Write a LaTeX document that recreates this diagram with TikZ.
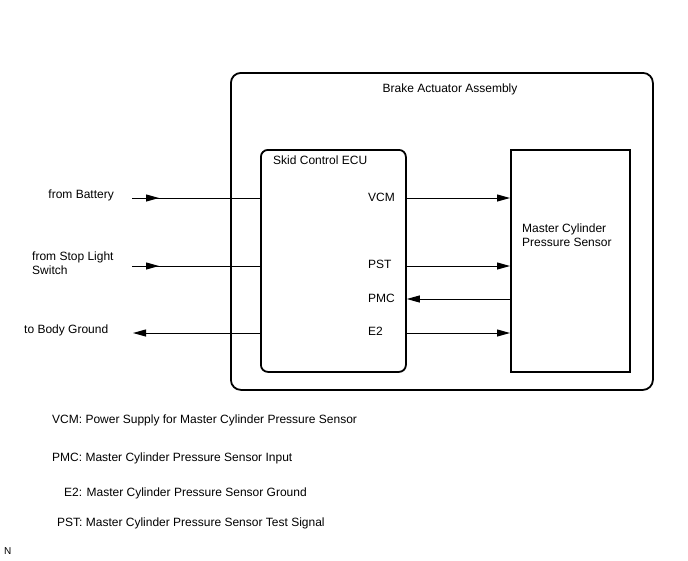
\documentclass[tikz,border=0pt]{standalone}
\usepackage{fontspec}
\setmainfont{Liberation Sans}
\usetikzlibrary{arrows.meta}
\begin{document}
\begin{tikzpicture}[x=1pt,y=-1pt,
  font=\fontsize{12}{14}\selectfont,
  box/.style={draw, anchor=north west, inner sep=0pt},
  wire/.style={line width=1pt},
  tip/.style={-{Triangle[length=13pt,width=7pt]}},
  lbl/.style={inner sep=0pt, align=left}]
\useasboundingbox (0,0) rectangle (688,560);
% boxes
\node[box, rounded corners=10pt, line width=1.8pt, minimum width=422pt, minimum height=317pt] (outer) at (230,72) {};
\node[box, rounded corners=7pt, line width=1.8pt, minimum width=145pt, minimum height=222pt] (ecu) at (260,149) {};
\node[box, line width=1.5pt, minimum width=119pt, minimum height=222pt] (sensor) at (510,149) {};
% titles
\node[lbl] (outert) at (450,89) {Brake Actuator Assembly};
\node[lbl, anchor=west] (ecut) at (273,160) {Skid Control ECU};
\node[lbl, anchor=north west] (sent) at (522,224) {Master Cylinder\\Pressure Sensor};
% pin labels
\node[lbl, anchor=west] (vcm) at (368,197) {VCM};
\node[lbl, anchor=west] (pst) at (368,264) {PST};
\node[lbl, anchor=west] (pmc) at (368,298) {PMC};
\node[lbl, anchor=west] (e2) at (368,331) {E2};
% left labels
\node[lbl, anchor=east] (bat) at (114,195) {from Battery};
\node[lbl, anchor=west] (stop) at (32,263.5) {from Stop Light\\Switch};
\node[lbl, anchor=west] (gnd) at (24,330) {to Body Ground};
% free ends
\coordinate (b0) at (132,198);
\coordinate (s0) at (132,266);
\coordinate (g0) at (133,333);
% left connectors
\draw[wire] (b0) -- (b0 -| ecu.west);
\draw[wire, tip] (b0) -- ++(27,0);
\draw[wire] (s0) -- (s0 -| ecu.west);
\draw[wire, tip] (s0) -- ++(27,0);
\draw[wire, tip] (g0 -| ecu.west) -- (g0);
% right connectors
\coordinate (yv) at (0,198);
\coordinate (yp) at (0,266);
\coordinate (ym) at (0,299);
\coordinate (ye) at (0,333);
\draw[wire, tip] (yv -| ecu.east) -- (yv -| sensor.west);
\draw[wire, tip] (yp -| ecu.east) -- (yp -| sensor.west);
\draw[wire, tip] (ym -| sensor.west) -- (ym -| ecu.east);
\draw[wire, tip] (ye -| ecu.east) -- (ye -| sensor.west);
% legend
\node[lbl, anchor=west] (l1) at (52,420) {VCM: Power Supply for Master Cylinder Pressure Sensor};
\node[lbl, anchor=west] (l2) at (52,458) {PMC: Master Cylinder Pressure Sensor Input};
\node[lbl, anchor=west] (l3) at (64,493) {E2: Master Cylinder Pressure Sensor Ground};
\node[lbl, anchor=west] (l4) at (57,523) {PST: Master Cylinder Pressure Sensor Test Signal};
\node[lbl, anchor=west, font=\fontsize{10}{12}\selectfont] (n) at (4,551) {N};
\end{tikzpicture}
\end{document}
